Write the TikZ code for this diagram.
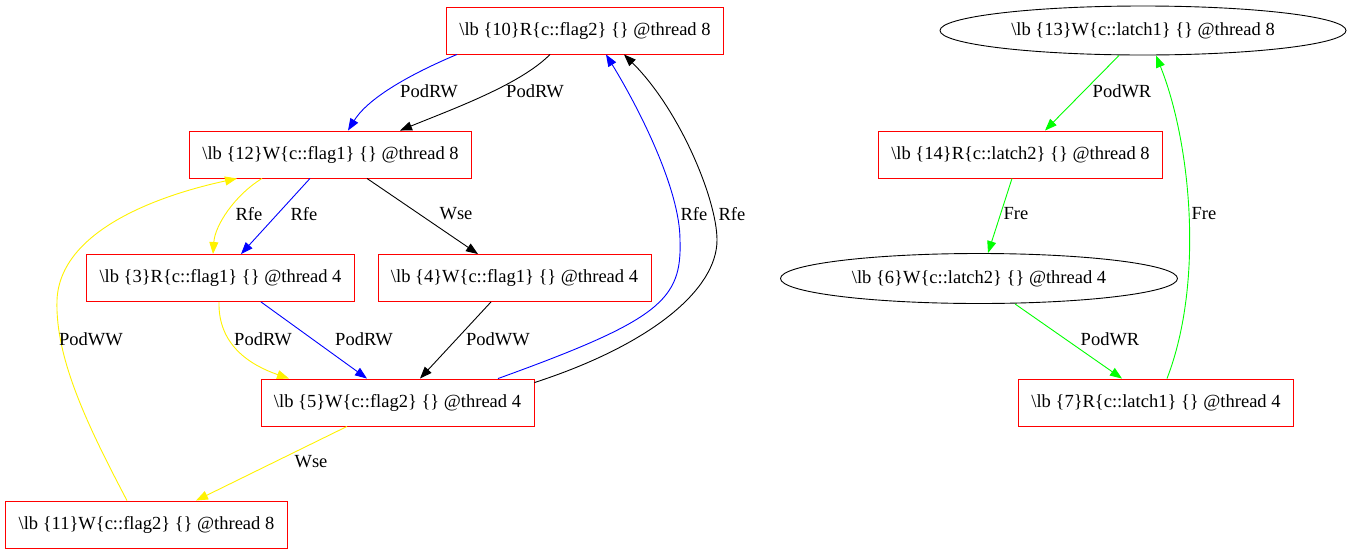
\documentclass[tikz,border=0pt]{standalone}
\usepackage{fontspec}
\setmainfont{Liberation Serif}
\usetikzlibrary{arrows.meta,shapes.geometric}
\tikzset{
  evbox/.style={rectangle, draw=red, line width=0.9pt, minimum height=47pt, inner xsep=13pt},
  evell/.style={ellipse, draw, line width=0.9pt, inner sep=0pt},
  rel/.style={line width=0.9pt, -{Triangle[length=12pt,width=9pt]}},
  lab/.style={inner sep=1pt}
}
\begin{document}
\begin{tikzpicture}[x=1pt,y=-1pt,font=\fontsize{18.5}{22}\selectfont]
        \useasboundingbox (0,0) rectangle (1355,555);

        \node[evbox] (n10) at (585, 30.5) {\textbackslash lb \{10\}R\{c::flag2\} \{\} @thread 8};
        \node[evbox] (n12) at (330.5, 154.5) {\textbackslash lb \{12\}W\{c::flag1\} \{\} @thread 8};
        \node[evbox] (n3) at (220.5, 278) {\textbackslash lb \{3\}R\{c::flag1\} \{\} @thread 4};
        \node[evbox] (n4) at (514.5, 278) {\textbackslash lb \{4\}W\{c::flag1\} \{\} @thread 4};
        \node[evbox] (n5) at (397.5, 402.5) {\textbackslash lb \{5\}W\{c::flag2\} \{\} @thread 4};
        \node[evbox] (n11) at (146.5, 524.5) {\textbackslash lb \{11\}W\{c::flag2\} \{\} @thread 8};
        \node[evell, minimum width=406pt, minimum height=49pt] (n13) at (1143, 30.5) {\textbackslash lb \{13\}W\{c::latch1\} \{\} @thread 8};
        \node[evbox] (n14) at (1020.5, 154.5) {\textbackslash lb \{14\}R\{c::latch2\} \{\} @thread 8};
        \node[evell, minimum width=397pt, minimum height=50pt] (n6) at (979, 278.5) {\textbackslash lb \{6\}W\{c::latch2\} \{\} @thread 4};
        \node[evbox] (n7) at (1156, 402.5) {\textbackslash lb \{7\}R\{c::latch1\} \{\} @thread 4};

        % left component
        \draw[rel, blue] ([xshift=-128pt]n10.south) .. controls (420,70) and (370,95) .. ([xshift=17.5pt]n12.north);
        \draw[rel] ([xshift=-35pt]n10.south) .. controls (520,85) and (450,110) .. ([xshift=69.5pt]n12.north);
        \draw[rel, yellow] ([xshift=-68.5pt]n12.south) .. controls (235,195) and (215,225) .. ([xshift=-7.5pt]n3.north);
        \draw[rel, blue] ([xshift=-20.5pt]n12.south) -- ([xshift=20.5pt]n3.north);
        \draw[rel] ([xshift=36.5pt]n12.south) -- ([xshift=-36.5pt]n4.north);
        \draw[rel, yellow] ([xshift=-1.5pt]n3.south) .. controls (218,345) and (250,365) .. ([xshift=-108.5pt]n5.north);
        \draw[rel, blue] ([xshift=40.5pt]n3.south) -- ([xshift=-30.5pt]n5.north);
        \draw[rel] ([xshift=-23.5pt]n4.south) -- ([xshift=22.5pt]n5.north);
        \draw[rel, blue] ([xshift=100.5pt]n5.north) .. controls (660,320) and (682,300) .. (680,240)
              .. controls (680,190) and (640,110) .. ([xshift=21pt]n10.south);
        \draw[rel] ([yshift=-4pt]n5.north east) .. controls (650,345) and (717,290) .. (717,240)
              .. controls (717,200) and (680,110) .. ([xshift=39pt]n10.south);
        \draw[rel, yellow] ([xshift=-50.5pt]n5.south) -- ([xshift=49.5pt]n11.north);
        \draw[rel, yellow] ([xshift=-19.5pt]n11.north) .. controls (90,430) and (55,360) .. (57,300)
              .. controls (60,230) and (160,195) .. ([xshift=-93.5pt]n12.south);

        % right component
        \draw[rel, green] ([xshift=-24pt]n13.south) -- ([xshift=24.5pt]n14.north);
        \draw[rel, green] ([xshift=-8.5pt]n14.south) -- ([xshift=9pt]n6.north);
        \draw[rel, green] ([xshift=36pt]n6.south) -- ([xshift=-34pt]n7.north);
        \draw[rel, green] ([xshift=11pt]n7.north) .. controls (1205,280) and (1190,140) .. ([xshift=13pt]n13.south);

        \node[lab] (l1) at (429, 91) {PodRW};
        \node[lab] (l2) at (535, 91) {PodRW};
        \node[lab] (l3) at (249, 214) {Rfe};
        \node[lab] (l4) at (304, 214) {Rfe};
        \node[lab] (l5) at (456, 214) {Wse};
        \node[lab] (l6) at (694, 214) {Rfe};
        \node[lab] (l7) at (732, 214) {Rfe};
        \node[lab] (l8) at (91, 339) {PodWW};
        \node[lab] (l9) at (263, 339) {PodRW};
        \node[lab] (l10) at (364, 339) {PodRW};
        \node[lab] (l11) at (498, 339) {PodWW};
        \node[lab] (l12) at (311, 462) {Wse};
        \node[lab] (l13) at (1122, 91) {PodWR};
        \node[lab] (l14) at (1016, 214) {Fre};
        \node[lab] (l15) at (1204, 214) {Fre};
        \node[lab] (l16) at (1110, 339) {PodWR};

    \end{tikzpicture}
\end{document}
